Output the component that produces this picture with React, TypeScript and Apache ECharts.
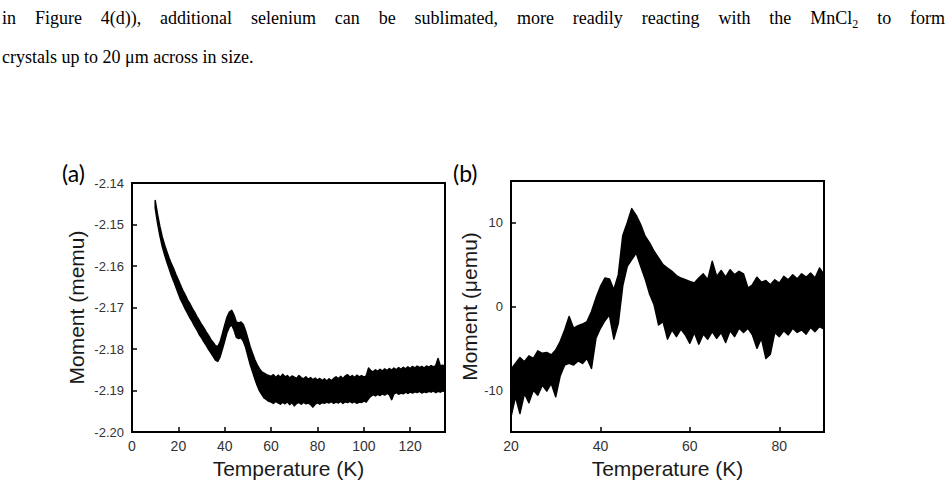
import React, { useEffect, useRef } from "react";
import * as echarts from "echarts";

// ---------- Paragraph text ----------
const LINE1_WORDS = ["in", "Figure", "4(d)),", "additional", "selenium", "can", "be", "sublimated,", "more", "readily", "reacting", "with", "the", "MnCl|2", "to", "form"];
const LINE2_TEXT = "crystals up to 20 μm across in size.";

// ---------- Panel (a) ----------
const A_TEMP = [10,11,12,13,14,15,16,17,18,19,20,21,22,23,24,25,26,27,28,29,30,31,32,33,34,35,36,37,38,39,40,41,42,43,44,45,46,47,48,49,50,51,52,53,54,55,56,57,58,59,60,61,62,63,64,65,66,67,68,69,70,71,72,73,74,75,76,77,78,79,80,81,82,83,84,85,86,87,88,89,90,91,92,93,94,95,96,97,98,99,100,101,102,103,104,105,106,107,108,109,110,111,112,113,114,115,116,117,118,119,120,121,122,123,124,125,126,127,128,129,130,131,132,133,134,135];
const A_UPPER = [-2.1442,-2.1475,-2.1504,-2.1529,-2.1548,-2.1565,-2.1581,-2.1595,-2.1607,-2.1621,-2.1634,-2.1647,-2.1660,-2.1670,-2.1682,-2.1691,-2.1702,-2.1711,-2.1722,-2.1731,-2.1741,-2.1749,-2.1759,-2.1767,-2.1777,-2.1784,-2.1792,-2.1794,-2.1783,-2.1763,-2.1742,-2.1723,-2.1711,-2.1707,-2.1718,-2.1735,-2.1737,-2.1735,-2.1741,-2.1756,-2.1775,-2.1795,-2.1811,-2.1826,-2.1838,-2.1848,-2.1855,-2.1858,-2.1862,-2.1864,-2.1866,-2.1862,-2.1869,-2.1863,-2.1868,-2.1861,-2.1867,-2.1864,-2.1870,-2.1865,-2.1868,-2.1871,-2.1864,-2.1869,-2.1872,-2.1867,-2.1873,-2.1869,-2.1874,-2.1870,-2.1875,-2.1871,-2.1876,-2.1872,-2.1877,-2.1872,-2.1876,-2.1871,-2.1867,-2.1872,-2.1866,-2.1871,-2.1865,-2.1862,-2.1868,-2.1864,-2.1869,-2.1863,-2.1867,-2.1864,-2.1868,-2.1865,-2.1846,-2.1852,-2.1855,-2.1850,-2.1854,-2.1849,-2.1853,-2.1848,-2.1852,-2.1847,-2.1851,-2.1846,-2.1850,-2.1845,-2.1849,-2.1844,-2.1848,-2.1843,-2.1847,-2.1842,-2.1846,-2.1841,-2.1845,-2.1842,-2.1846,-2.1841,-2.1844,-2.1840,-2.1843,-2.1840,-2.1823,-2.1841,-2.1839,-2.1841];
const A_LOWER = [-2.1460,-2.1496,-2.1526,-2.1552,-2.1572,-2.1590,-2.1606,-2.1623,-2.1637,-2.1652,-2.1667,-2.1681,-2.1692,-2.1704,-2.1714,-2.1725,-2.1734,-2.1745,-2.1754,-2.1765,-2.1773,-2.1783,-2.1791,-2.1801,-2.1809,-2.1818,-2.1827,-2.1830,-2.1819,-2.1800,-2.1780,-2.1760,-2.1747,-2.1742,-2.1754,-2.1772,-2.1775,-2.1773,-2.1781,-2.1796,-2.1817,-2.1838,-2.1855,-2.1872,-2.1888,-2.1901,-2.1910,-2.1918,-2.1922,-2.1926,-2.1928,-2.1931,-2.1926,-2.1930,-2.1933,-2.1928,-2.1932,-2.1927,-2.1934,-2.1929,-2.1937,-2.1931,-2.1929,-2.1933,-2.1928,-2.1932,-2.1930,-2.1934,-2.1940,-2.1933,-2.1930,-2.1933,-2.1929,-2.1931,-2.1928,-2.1930,-2.1927,-2.1931,-2.1928,-2.1930,-2.1926,-2.1931,-2.1927,-2.1929,-2.1926,-2.1930,-2.1927,-2.1931,-2.1928,-2.1929,-2.1925,-2.1928,-2.1920,-2.1914,-2.1910,-2.1913,-2.1909,-2.1912,-2.1908,-2.1911,-2.1907,-2.1910,-2.1922,-2.1908,-2.1905,-2.1909,-2.1906,-2.1908,-2.1904,-2.1907,-2.1904,-2.1906,-2.1903,-2.1905,-2.1902,-2.1906,-2.1903,-2.1905,-2.1902,-2.1904,-2.1901,-2.1905,-2.1902,-2.1904,-2.1901,-2.1903];
const A_X_TICKS = { min: 0, max: 135, interval: 20 };
const A_Y_TICKS = { min: -2.2, max: -2.14, interval: 0.01 };

// ---------- Panel (b) ----------
const B_TEMP = [20,21,22,23,24,25,26,27,28,29,30,31,32,33,34,35,36,37,38,39,40,41,42,43,44,45,46,47,48,49,50,51,52,53,54,55,56,57,58,59,60,61,62,63,64,65,66,67,68,69,70,71,72,73,74,75,76,77,78,79,80,81,82,83,84,85,86,87,88,89,90];
const B_UPPER = [-7.5,-6.8,-6.1,-6.6,-5.9,-6.2,-5.3,-5.6,-5.5,-5.8,-5.2,-4.2,-2.8,-1.2,-2.6,-2.3,-2.1,-1.8,-0.6,1.0,2.4,3.4,3.3,2.0,3.8,8.5,10.0,11.7,10.9,9.8,8.4,7.6,6.6,5.8,5.0,4.6,4.2,3.7,3.4,3.2,3.0,2.8,3.4,3.9,3.2,5.4,3.6,4.3,3.5,4.4,3.8,4.2,3.9,2.2,2.6,3.5,2.9,3.1,2.6,3.2,2.8,3.6,3.2,3.8,3.3,3.9,3.5,4.0,3.4,4.6,3.8];
const B_LOWER = [-13.2,-10.8,-12.8,-10.4,-11.5,-10.0,-10.6,-9.4,-10.1,-9.2,-10.8,-8.3,-7.0,-6.8,-7.0,-6.5,-6.8,-6.2,-7.4,-3.8,-2.6,-1.7,-1.0,-3.9,-2.0,2.5,4.8,5.6,6.4,4.8,3.3,1.5,0.2,-2.2,-1.8,-3.9,-2.8,-3.6,-2.7,-3.4,-4.4,-3.1,-4.5,-3.3,-3.9,-3.0,-3.8,-3.1,-4.3,-2.9,-3.6,-2.6,-3.1,-2.6,-3.4,-5.0,-3.8,-6.2,-5.7,-3.1,-3.6,-2.9,-3.4,-2.6,-3.1,-2.8,-3.3,-2.5,-3.0,-2.4,-2.7];
const B_X_TICKS = { min: 20, max: 90, interval: 20 };
const B_Y_RANGE = { min: -15, max: 15 };
const B_Y_TICKS = [-10, 0, 10];

const SANS = "'Liberation Sans', Arial, sans-serif";
const SERIF = "'Liberation Serif', 'Times New Roman', serif";

function bandSeries(temps: number[], upper: number[], lower: number[], idx: number) {
  return {
    type: "custom",
    xAxisIndex: idx,
    yAxisIndex: idx,
    clip: true,
    silent: true,
    data: temps.map((t, i) => [t, upper[i], lower[i]]),
    encode: { x: 0, y: [1, 2] },
    renderItem: (params: any, api: any) => {
      if (params.dataIndex !== 0) return { type: "group", children: [] };
      const pts: number[][] = [];
      for (let i = 0; i < temps.length; i++) pts.push(api.coord([temps[i], upper[i]]));
      for (let i = temps.length - 1; i >= 0; i--) pts.push(api.coord([temps[i], lower[i]]));
      return {
        type: "polygon",
        shape: { points: pts },
        style: { fill: "#000", stroke: "#000", lineWidth: 1.5, lineJoin: "round" },
      };
    },
  };
}

function paragraphGraphics() {
  const FS = 18;
  const canvas = document.createElement("canvas");
  const ctx = canvas.getContext("2d");
  const measure = (s: string, size: number) => {
    if (!ctx) return s.length * size * 0.45;
    ctx.font = `${size}px "Liberation Serif"`;
    return ctx.measureText(s).width;
  };
  const left = 2;
  const right = 945;
  const words = LINE1_WORDS.map((w) => {
    const [main, sub] = w.split("|");
    const wMain = measure(main, FS);
    const wSub = sub ? measure(sub, 12) : 0;
    return { main, sub, wMain, width: wMain + wSub };
  });
  const total = words.reduce((s, w) => s + w.width, 0);
  const gap = (right - left - total) / (words.length - 1);
  const els: any[] = [];
  let x = left;
  const y1 = 18;
  words.forEach((w) => {
    els.push({
      type: "text", x, y: y1, silent: true,
      style: { text: w.main, font: `${FS}px ${SERIF}`, fill: "#000", verticalAlign: "middle", align: "left" },
    });
    if (w.sub) {
      els.push({
        type: "text", x: x + w.wMain, y: y1 + 6, silent: true,
        style: { text: w.sub, font: `12px ${SERIF}`, fill: "#000", verticalAlign: "middle", align: "left" },
      });
    }
    x += w.width + gap;
  });
  els.push({
    type: "text", x: left, y: 57, silent: true,
    style: { text: LINE2_TEXT, font: `${FS}px ${SERIF}`, fill: "#000", verticalAlign: "middle", align: "left" },
  });
  return els;
}

const axisCommon = {
  axisLine: { show: true, onZero: false, lineStyle: { color: "#000", width: 2 } },
  axisTick: { show: true, inside: true, length: 5, lineStyle: { color: "#000", width: 1.5 } },
  splitLine: { show: false },
  nameLocation: "middle",
  nameTextStyle: { fontFamily: SANS, fontSize: 21, color: "#1a1a1a" },
};

export default function App() {
  const ref = useRef<HTMLDivElement>(null);
  useEffect(() => {
    document.body.style.margin = "0";
    const chart = echarts.init(ref.current!, null, { renderer: "svg" });
    const option: any = {
      animation: false,
      backgroundColor: "#fff",
      grid: [
        { left: 132, top: 183, width: 313, height: 249, show: true, borderColor: "#000", borderWidth: 2, backgroundColor: "transparent" },
        { left: 511, top: 181, width: 313, height: 251, show: true, borderColor: "#000", borderWidth: 2, backgroundColor: "transparent" },
      ],
      xAxis: [
        {
          ...axisCommon, type: "value", gridIndex: 0, min: A_X_TICKS.min, max: A_X_TICKS.max, interval: A_X_TICKS.interval,
          name: "Temperature (K)", nameGap: 24,
          axisLabel: { color: "#333", fontFamily: SANS, fontSize: 14, margin: 7, showMaxLabel: false },
        },
        {
          ...axisCommon, type: "value", gridIndex: 1, min: B_X_TICKS.min, max: B_X_TICKS.max, interval: B_X_TICKS.interval,
          name: "Temperature (K)", nameGap: 24,
          axisLabel: { color: "#333", fontFamily: SANS, fontSize: 14, margin: 7, showMaxLabel: false },
        },
      ],
      yAxis: [
        {
          ...axisCommon, type: "value", gridIndex: 0, min: A_Y_TICKS.min, max: A_Y_TICKS.max, interval: A_Y_TICKS.interval,
          name: "Moment (memu)", nameGap: 45,
          axisLabel: { color: "#333", fontFamily: SANS, fontSize: 13, margin: 8, formatter: (v: number) => v.toFixed(2) },
        },
        {
          ...axisCommon, type: "value", gridIndex: 1, min: B_Y_RANGE.min, max: B_Y_RANGE.max,
          name: "Moment (μemu)", nameGap: 28,
          axisTick: { ...axisCommon.axisTick, customValues: B_Y_TICKS },
          axisLabel: { color: "#333", fontFamily: SANS, fontSize: 13, margin: 8, customValues: B_Y_TICKS },
        },
      ],
      series: [bandSeries(A_TEMP, A_UPPER, A_LOWER, 0), bandSeries(B_TEMP, B_UPPER, B_LOWER, 1)],
      graphic: [
        ...paragraphGraphics(),
        { type: "text", x: 62, y: 173, silent: true, style: { text: "(a)", font: `23px Lato, 'Open Sans', sans-serif`, fill: "#000", verticalAlign: "middle" } },
        { type: "text", x: 453, y: 173, silent: true, style: { text: "(b)", font: `23px Lato, 'Open Sans', sans-serif`, fill: "#000", verticalAlign: "middle" } },
      ],
    };
    chart.setOption(option);
    return () => chart.dispose();
  }, []);
  return <div ref={ref} style={{ position: "absolute", left: 0, top: 0, width: 949, height: 493 }} />;
}
